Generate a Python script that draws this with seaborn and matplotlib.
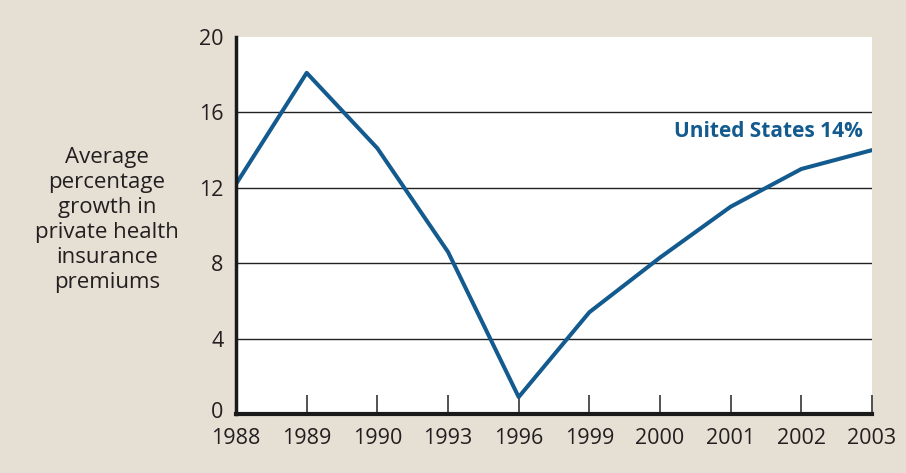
import pandas as pd
import matplotlib
matplotlib.use("Agg")
import matplotlib.pyplot as plt
import matplotlib.transforms as mtransforms
import seaborn as sns

# Data
years = ["1988", "1989", "1990", "1993", "1996", "1999", "2000", "2001", "2002", "2003"]
growth = [12.2, 18.1, 14.1, 8.6, 0.9, 5.4, 8.3, 11.0, 13.0, 14.0]
y_ticks = [0, 4, 8, 12, 16, 20]

df = pd.DataFrame({"Year": years, "Growth": growth})

sns.set_style("white")
plt.rcParams['font.family'] = ['Open Sans', 'DejaVu Sans']

bg = "#e5dfd4"
blue = "#135a8e"
ink = "#231f20"

fig = plt.figure(figsize=(9.06, 4.73), dpi=100, facecolor=bg)
ax = fig.add_axes([0.2605, 0.1247, 0.702, 0.797])
ax.set_facecolor("white")

sns.lineplot(x="Year", y="Growth", data=df, ax=ax, color=blue, linewidth=2.9, sort=False)

ax.set_xlim(0, len(years) - 1)
ax.set_ylim(0, 20)
ax.set_yticks(y_ticks)
ax.set_xticks(range(len(years)))
ax.set_xticklabels(years)

# horizontal gridlines (not at the top)
for v in y_ticks[1:-1]:
    ax.axhline(v, color="#222222", linewidth=1.0, zorder=0)

for side in ["top", "right"]:
    ax.spines[side].set_visible(False)
ax.spines["left"].set_color("#1a1a1a")
ax.spines["left"].set_linewidth(2.5)
ax.spines["bottom"].set_color("#1a1a1a")
ax.spines["bottom"].set_linewidth(3)

ax.tick_params(axis="x", bottom=True, direction="in", length=13.5, width=1.3, color="#444444",
               labelsize=15.5, labelcolor=ink, pad=10)
ax.tick_params(axis="y", left=False, length=0, labelsize=15.5, labelcolor=ink, pad=9)

# nudge the "0" label up a little so it clears the year labels
shift = mtransforms.ScaledTranslation(0, 3 / 72, fig.dpi_scale_trans)
for lbl in ax.get_yticklabels():
    if lbl.get_text() == "0":
        lbl.set_transform(lbl.get_transform() + shift)

ax.set_xlabel("")
ax.set_ylabel("")

ax.text(8.87, 15.0, "United States 14%", color=blue, fontsize=15, fontweight="bold",
        ha="right", va="center")

fig.text(0.118, 0.535, "Average\npercentage\ngrowth in\nprivate health\ninsurance\npremiums",
         ha="center", va="center", fontsize=16, color=ink, linespacing=1.25)

fig.savefig("out.png", dpi=100, facecolor=bg)
